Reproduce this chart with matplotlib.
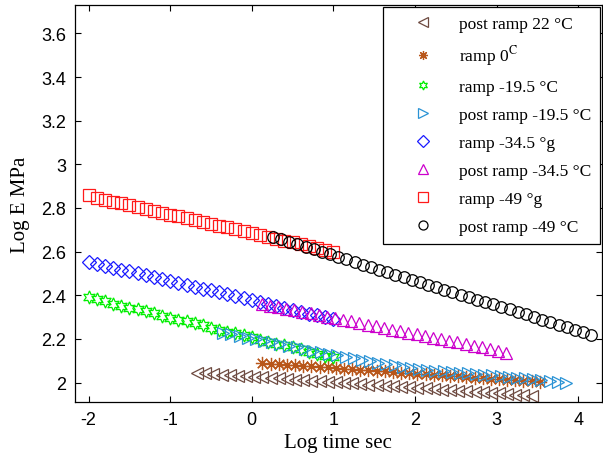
import matplotlib
matplotlib.use("Agg")
import matplotlib.pyplot as plt

plt.rcParams["axes.unicode_minus"] = False
plt.rcParams["mathtext.fontset"] = "stix"

# post ramp 22 C (brown left triangles)
x_post22 = [-0.67, -0.57, -0.47, -0.37, -0.27, -0.17, -0.07, 0.03, 0.13, 0.23,
            0.33, 0.43, 0.53, 0.63, 0.73, 0.83, 0.93, 1.03, 1.13, 1.23,
            1.33, 1.43, 1.53, 1.63, 1.73, 1.83, 1.93, 2.03, 2.13, 2.23,
            2.33, 2.43, 2.53, 2.63, 2.73, 2.83, 2.93, 3.03, 3.13, 3.23,
            3.33, 3.43]
y_post22 = [2.045, 2.042, 2.040, 2.037, 2.035, 2.032, 2.030, 2.027, 2.025, 2.022,
            2.019, 2.017, 2.014, 2.012, 2.009, 2.007, 2.004, 2.001, 1.999, 1.996,
            1.994, 1.991, 1.989, 1.986, 1.984, 1.981, 1.978, 1.976, 1.973, 1.971,
            1.968, 1.966, 1.963, 1.960, 1.958, 1.955, 1.953, 1.950, 1.948, 1.945,
            1.942, 1.940]

# ramp 0 (brown asterisks)
x_ramp0 = [0.13, 0.23, 0.33, 0.43, 0.53, 0.63, 0.73, 0.83, 0.93, 1.03,
           1.13, 1.23, 1.33, 1.43, 1.53, 1.63, 1.73, 1.83, 1.93, 2.03,
           2.13, 2.23, 2.33, 2.43, 2.53, 2.63, 2.73, 2.83, 2.93, 3.03,
           3.13, 3.23, 3.33, 3.43, 3.53]
y_ramp0 = [2.090, 2.087, 2.085, 2.082, 2.080, 2.077, 2.075, 2.072, 2.070, 2.067,
           2.064, 2.062, 2.059, 2.057, 2.054, 2.052, 2.049, 2.046, 2.044, 2.041,
           2.039, 2.036, 2.034, 2.031, 2.029, 2.026, 2.023, 2.021, 2.018, 2.016,
           2.013, 2.011, 2.008, 2.005, 2.003]

# ramp -19.5 (green hexagrams)
x_ramp195 = [-2.0, -1.9, -1.8, -1.7, -1.6, -1.5, -1.4, -1.3, -1.2, -1.1,
             -1.0, -0.9, -0.8, -0.7, -0.6, -0.5, -0.4, -0.3, -0.2, -0.1,
             0.0, 0.1, 0.2, 0.3, 0.4, 0.5, 0.6, 0.7, 0.8, 0.9, 1.0]
y_ramp195 = [2.390, 2.381, 2.372, 2.362, 2.353, 2.344, 2.335, 2.326, 2.317, 2.307,
             2.298, 2.289, 2.280, 2.271, 2.262, 2.252, 2.243, 2.234, 2.225, 2.216,
             2.207, 2.197, 2.188, 2.179, 2.170, 2.161, 2.152, 2.142, 2.133, 2.124,
             2.115]

# post ramp -19.5 (cyan right triangles)
x_post195 = [-0.35, -0.25, -0.15, -0.05, 0.05, 0.15, 0.25, 0.35, 0.45, 0.55,
             0.65, 0.75, 0.85, 0.95, 1.05, 1.15, 1.25, 1.35, 1.45, 1.55,
             1.65, 1.75, 1.85, 1.95, 2.05, 2.15, 2.25, 2.35, 2.45, 2.55,
             2.65, 2.75, 2.85, 2.95, 3.05, 3.15, 3.25, 3.35, 3.45, 3.55,
             3.65, 3.75, 3.85]
y_post195 = [2.228, 2.221, 2.213, 2.206, 2.198, 2.191, 2.184, 2.176, 2.169, 2.161,
             2.154, 2.146, 2.139, 2.132, 2.125, 2.118, 2.111, 2.104, 2.097, 2.091,
             2.085, 2.079, 2.073, 2.067, 2.062, 2.058, 2.054, 2.051, 2.048, 2.045,
             2.042, 2.039, 2.036, 2.033, 2.030, 2.026, 2.023, 2.019, 2.016, 2.012,
             2.008, 2.004, 2.000]

# ramp -34.5 (blue diamonds)
x_ramp345 = [-2.0, -1.9, -1.8, -1.7, -1.6, -1.5, -1.4, -1.3, -1.2, -1.1,
             -1.0, -0.9, -0.8, -0.7, -0.6, -0.5, -0.4, -0.3, -0.2, -0.1,
             0.0, 0.1, 0.2, 0.3, 0.4, 0.5, 0.6, 0.7, 0.8, 0.9, 1.0]
y_ramp345 = [2.553, 2.544, 2.535, 2.527, 2.518, 2.509, 2.500, 2.492, 2.483, 2.474,
             2.465, 2.457, 2.448, 2.439, 2.430, 2.422, 2.413, 2.404, 2.395, 2.386,
             2.378, 2.369, 2.360, 2.351, 2.343, 2.334, 2.325, 2.316, 2.308, 2.299,
             2.290]

# post ramp -34.5 (magenta triangles)
x_post345 = [0.12, 0.22, 0.32, 0.42, 0.52, 0.62, 0.72, 0.82, 0.92, 1.02,
             1.12, 1.22, 1.32, 1.42, 1.52, 1.62, 1.72, 1.82, 1.92, 2.02,
             2.12, 2.22, 2.32, 2.42, 2.52, 2.62, 2.72, 2.82, 2.92, 3.02, 3.12]
y_post345 = [2.360, 2.353, 2.346, 2.339, 2.331, 2.324, 2.317, 2.309, 2.302, 2.295,
             2.287, 2.280, 2.273, 2.265, 2.258, 2.251, 2.243, 2.236, 2.229, 2.221,
             2.214, 2.206, 2.199, 2.191, 2.184, 2.176, 2.168, 2.161, 2.153, 2.145,
             2.137]

# ramp -49 (red squares)
x_ramp49 = [-2.0, -1.9, -1.8, -1.7, -1.6, -1.5, -1.4, -1.3, -1.2, -1.1,
            -1.0, -0.9, -0.8, -0.7, -0.6, -0.5, -0.4, -0.3, -0.2, -0.1,
            0.0, 0.1, 0.2, 0.3, 0.4, 0.5, 0.6, 0.7, 0.8, 0.9, 1.0]
y_ramp49 = [2.860, 2.845, 2.837, 2.829, 2.821, 2.813, 2.804, 2.796, 2.787, 2.778,
            2.770, 2.761, 2.753, 2.745, 2.736, 2.728, 2.719, 2.711, 2.702, 2.694,
            2.685, 2.677, 2.668, 2.660, 2.651, 2.643, 2.634, 2.626, 2.617, 2.609,
            2.600]

# post ramp -49 (black circles)
x_post49 = [0.26, 0.36, 0.46, 0.56, 0.66, 0.76, 0.86, 0.96, 1.06, 1.16,
            1.26, 1.36, 1.46, 1.56, 1.66, 1.76, 1.86, 1.96, 2.06, 2.16,
            2.26, 2.36, 2.46, 2.56, 2.66, 2.76, 2.86, 2.96, 3.06, 3.16,
            3.26, 3.36, 3.46, 3.56, 3.66, 3.76, 3.86, 3.96, 4.06, 4.16]
y_post49 = [2.667, 2.656, 2.644, 2.633, 2.621, 2.610, 2.598, 2.587, 2.575, 2.564,
            2.552, 2.541, 2.529, 2.518, 2.507, 2.495, 2.484, 2.472, 2.461, 2.449,
            2.438, 2.426, 2.415, 2.403, 2.392, 2.380, 2.369, 2.358, 2.346, 2.335,
            2.323, 2.312, 2.300, 2.289, 2.277, 2.266, 2.254, 2.243, 2.231, 2.220]

labels = ["post ramp 22 °C", r"ramp 0$^{\mathrm{C}}$", "ramp -19.5 °C",
          "post ramp -19.5 °C", "ramp -34.5 °g", "post ramp -34.5 °C",
          "ramp -49 °g", "post ramp -49 °C"]

series = [
    (x_post22, y_post22, "<", "#6e4a40", 9.0),
    (x_ramp0, y_ramp0, (8, 2, 0), "#b8561a", 9.5),
    (x_ramp195, y_ramp195, (6, 1, 0), "#00ee00", 9.5),
    (x_post195, y_post195, ">", "#2a93d5", 9.0),
    (x_ramp345, y_ramp345, "D", "#1a1aff", 7.0),
    (x_post345, y_post345, "^", "#cc00cc", 9.0),
    (x_ramp49, y_ramp49, "s", "#ff1a1a", 8.3),
    (x_post49, y_post49, "o", "black", 8.3),
]

fig = plt.figure(figsize=(6.03, 4.64), dpi=100)
ax = fig.add_axes([0.124, 0.131, 0.874, 0.856])

for (xs, ys, mk, col, ms), lab in zip(series, labels):
    ax.plot(xs, ys, linestyle="none", marker=mk, markersize=ms,
            markerfacecolor="none", markeredgecolor=col, markeredgewidth=0.9,
            label=lab)

ax.set_xlim(-2.17, 4.29)
ax.set_ylim(1.91, 3.73)
ax.set_xticks([-2, -1, 0, 1, 2, 3, 4])
ax.set_xticklabels(["-2", "-1", "0", "1", "2", "3", "4"])
ax.set_yticks([2, 2.2, 2.4, 2.6, 2.8, 3, 3.2, 3.4, 3.6])
ax.set_yticklabels(["2", "2.2", "2.4", "2.6", "2.8", "3", "3.2", "3.4", "3.6"])
ax.tick_params(direction="in", top=True, right=True, length=4, width=0.8,
               labelsize=13, pad=6)
for t in ax.get_xticklabels() + ax.get_yticklabels():
    t.set_family("Liberation Sans")
for sp in ax.spines.values():
    sp.set_linewidth(0.9)

ax.set_xlabel("Log time sec", family="Liberation Serif", fontsize=15)
ax.set_ylabel("Log E MPa", family="Liberation Serif", fontsize=15, labelpad=8)

leg = ax.legend(loc="upper right", bbox_to_anchor=(1.0, 1.0), borderaxespad=0.1,
                prop={"family": "Liberation Serif", "size": 12.5},
                numpoints=1, handlelength=3.6, handletextpad=0.3,
                borderpad=0.5, labelspacing=0.68, fancybox=False,
                edgecolor="black", framealpha=1)
leg.get_frame().set_linewidth(0.9)
for h in leg.legend_handles:
    h.set_markersize(6.5)

fig.savefig("out.png", dpi=100)
